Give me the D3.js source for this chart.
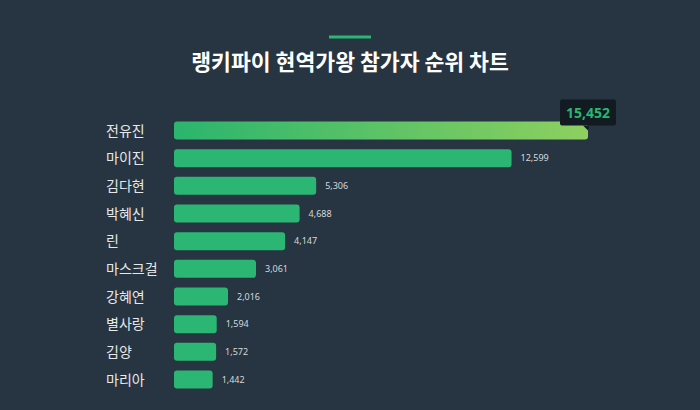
<!DOCTYPE html>
<html>
<head>
<meta charset="utf-8">
<script src="https://cdn.jsdelivr.net/npm/d3@7"></script>
<style>
  html, body { margin: 0; padding: 0; background: #263541; }
  svg { display: block; font-family: "Noto Sans CJK KR", "Noto Sans", sans-serif; }
</style>
</head>
<body>
<svg id="chart" width="700" height="410"></svg>
<script>
// chart data
const names = ["전유진", "마이진", "김다현", "박혜신", "린", "마스크걸", "강혜연", "별사랑", "김양", "마리아"];
const votes = [15452, 12599, 5306, 4688, 4147, 3061, 2016, 1594, 1572, 1442];
const chartTitle = "랭키파이 현역가왕 참가자 순위 차트";

const W = 700, H = 410;
const svg = d3.select("#chart");

svg.append("rect").attr("width", W).attr("height", H).attr("fill", "#263541");

// gradient for the top bar
const defs = svg.append("defs");
const grad = defs.append("linearGradient").attr("id", "topGrad")
    .attr("x1", "0%").attr("x2", "100%").attr("y1", "0%").attr("y2", "0%");
grad.append("stop").attr("offset", "0%").attr("stop-color", "#2bb56e");
grad.append("stop").attr("offset", "100%").attr("stop-color", "#8ed05f");

// title + accent line
svg.append("line")
    .attr("x1", 329).attr("x2", 371).attr("y1", 37).attr("y2", 37)
    .attr("stroke", "#2bb673").attr("stroke-width", 3);
svg.append("text")
    .attr("x", W / 2).attr("y", 69.5)
    .attr("text-anchor", "middle")
    .attr("fill", "#ffffff")
    .attr("font-size", 21.6)
    .attr("font-weight", "bold")
    .text(chartTitle);

// scales
const x = d3.scaleLinear().domain([0, d3.max(votes)]).range([174, 588]);
const y = d3.scaleBand().domain(names).range([116.7, 393.3])
    .paddingInner(0.35).paddingOuter(0.175);

const rows = names.map((n, i) => ({ name: n, value: votes[i], i }));

// category labels
svg.append("g").selectAll("text").data(rows).enter().append("text")
    .attr("x", 106)
    .attr("y", d => y(d.name) + y.bandwidth() / 2)
    .attr("dy", "0.36em")
    .attr("fill", "#e6e8ea")
    .attr("font-size", 14)
    .text(d => d.name);

// bars
svg.append("g").selectAll("rect").data(rows).enter().append("rect")
    .attr("x", x(0))
    .attr("y", d => y(d.name))
    .attr("width", d => x(d.value) - x(0))
    .attr("height", y.bandwidth())
    .attr("rx", 3)
    .attr("fill", d => d.i === 0 ? "url(#topGrad)" : "#2bb673");

// value labels (all but the top one)
svg.append("g").selectAll("text").data(rows.slice(1)).enter().append("text")
    .attr("x", d => x(d.value) + 9)
    .attr("y", d => y(d.name) + y.bandwidth() / 2)
    .attr("dy", "0.36em")
    .attr("fill", "#d5d9dc")
    .attr("font-size", 9)
    .attr("font-family", "'Noto Sans', sans-serif")
    .text(d => d3.format(",")(d.value));

// tooltip for the top bar
const first = rows[0];
const tx = x(first.value), ty = y(first.name);
const tip = svg.append("g");
tip.append("rect")
    .attr("x", tx - 28).attr("y", ty - 22)
    .attr("width", 56).attr("height", 26)
    .attr("rx", 2)
    .attr("fill", "#111b21");
tip.append("path")
    .attr("d", `M${tx - 5},${ty + 4} L${tx + 1},${ty + 4} L${tx},${ty + 9} Z`)
    .attr("fill", "#111b21");
tip.append("text")
    .attr("x", tx).attr("y", ty - 9)
    .attr("dy", "0.36em")
    .attr("text-anchor", "middle")
    .attr("fill", "#2bb673")
    .attr("font-size", 14)
    .attr("font-weight", "bold")
    .attr("font-family", "'Noto Sans', sans-serif")
    .text(d3.format(",")(first.value));
</script>
</body>
</html>
